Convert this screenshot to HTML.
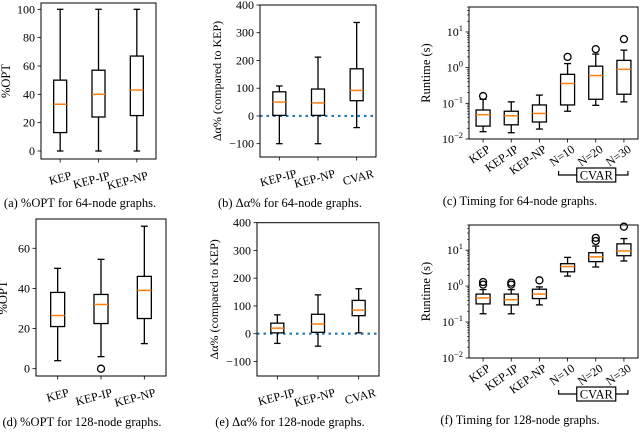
<!DOCTYPE html>
<html><head><meta charset="utf-8"><style>
body{margin:0;background:#fff}
svg, svg text{font-family:"Liberation Serif","Times New Roman",Times,serif}
</style></head><body>
<svg id="c" width="640" height="430" viewBox="0 0 640 430" font-family="Liberation Serif, Times New Roman, serif"></svg>
<script>
// Panel a
const catsA=["KEP","KEP-IP","KEP-NP"];
const statsA=[[0,13,33,50,100],[0,24,40,57,100],[0,25,43,67,100]];
const outA=[[],[],[]];
const ticksA=[0,20,40,60,80,100];
// Panel b
const catsB=["KEP-IP","KEP-NP","CVAR"];
const statsB=[[-100,2,50,87,108],[-100,2,47,97,212],[-42,55,92,170,337]];
const outB=[[],[],[]];
const ticksB=[-100,0,100,200,300,400];
// Panel c
const catsC=["KEP","KEP-IP","KEP-NP","N=10","N=20","N=30"];
const statsC=[[0.016,0.023,0.048,0.065,0.13],[0.015,0.025,0.045,0.06,0.11],[0.019,0.03,0.052,0.09,0.17],[0.06,0.09,0.36,0.65,1.3],[0.088,0.13,0.6,1.1,2.4],[0.11,0.18,0.9,1.6,3.1]];
const outC=[[0.16],[],[],[2.0],[3.3],[6.3]];
const ticksC=[-2,-1,0,1];
// Panel d
const catsD=["KEP","KEP-IP","KEP-NP"];
const statsD=[[4,21,26.5,38,50],[6,22.5,32,37,54.5],[12.5,25,39,46,71]];
const outD=[[],[0],[]];
const ticksD=[0,20,40,60];
// Panel e
const catsE=["KEP-IP","KEP-NP","CVAR"];
const statsE=[[-35,3,20,38,68],[-45,5,35,70,140],[3,65,85,120,162]];
const outE=[[],[],[]];
const ticksE=[-100,0,100,200,300,400];
// Panel f
const catsF=["KEP","KEP-IP","KEP-NP","N=10","N=20","N=30"];
const statsF=[[0.17,0.32,0.47,0.6,0.8],[0.17,0.3,0.42,0.6,0.8],[0.3,0.45,0.6,0.82,0.95],[1.9,2.5,3.5,4.2,6.3],[3.4,4.8,6.5,8.5,13],[5,7,9.5,15,21]];
const outF=[[1.1,1.3],[1.1,1.25],[1.45],[],[18,22],[45]];
const ticksF=[-2,-1,0,1];

const svg=document.getElementById('c');
const NS="http://www.w3.org/2000/svg";
const FF='"Liberation Serif","Times New Roman",Times,serif';
function mk(tag,attrs,parent,text){const e=document.createElementNS(NS,tag);for(const k in attrs)e.setAttribute(k,attrs[k]);if(tag==='text')e.style.fontFamily=FF;if(text!==undefined)e.textContent=text;(parent||svg).appendChild(e);return e;}

function panel(p){
  const g=mk('g',{});
  
  
  const L=p.x0,R=p.x1,T=p.y0,B=p.y1;
  const tr=p.log?(v=>Math.log10(v)):(v=>v);
  const y=v=>B-(tr(v)-p.ymin)/(p.ymax-p.ymin)*(B-T);
  const n=p.cats.length;
  const step=(R-L)/n;
  const x=i=>L+step*(i+0.5);
  if(p.zero){const z=mk('line',{x1:L,x2:R,y1:y(0),y2:y(0),stroke:'#1f77b4','stroke-width':2.2,'stroke-dasharray':'2.5,4'},g);
    }
  p.ticks.forEach(t=>{
    const yy=p.log?B-(t-p.ymin)/(p.ymax-p.ymin)*(B-T):y(t);
    mk('line',{x1:L-3.5,x2:L,y1:yy,y2:yy,stroke:'#000','stroke-width':0.8},g);
    const tx=mk('text',{x:L-6,y:yy+4,'text-anchor':'end','font-size':12},g);
    
    if(p.log){tx.textContent='10';mk('tspan',{dy:-5,'font-size':8.5},tx,String(t).replace('-','\u2212'));}
    else tx.textContent=String(t).replace('-','\u2212');
  });
  if(p.log){for(let d=p.ticks[0];d<=p.ymax;d++){for(let m=2;m<=9;m++){const lv=d+Math.log10(m);if(lv>p.ymax)break;const yy=B-(lv-p.ymin)/(p.ymax-p.ymin)*(B-T);mk('line',{x1:L-2,x2:L,y1:yy,y2:yy,stroke:'#000','stroke-width':0.6},g);}}}
  const bw=p.bw;
  p.stats.forEach((s,i)=>{
    const bg=mk('g',{},g);
    
    
    const cx=x(i);
    mk('line',{x1:cx,x2:cx,y1:y(s[0]),y2:y(s[1]),stroke:'#000','stroke-width':1.3},bg);
    mk('line',{x1:cx,x2:cx,y1:y(s[3]),y2:y(s[4]),stroke:'#000','stroke-width':1.3},bg);
    mk('line',{x1:cx-bw/4,x2:cx+bw/4,y1:y(s[0]),y2:y(s[0]),stroke:'#000','stroke-width':1.3},bg);
    mk('line',{x1:cx-bw/4,x2:cx+bw/4,y1:y(s[4]),y2:y(s[4]),stroke:'#000','stroke-width':1.3},bg);
    mk('rect',{x:cx-bw/2,y:y(s[3]),width:bw,height:y(s[1])-y(s[3]),fill:'none',stroke:'#000','stroke-width':1.3},bg);
    mk('line',{x1:cx-bw/2,x2:cx+bw/2,y1:y(s[2]),y2:y(s[2]),stroke:'#ff7f0e','stroke-width':1.5},bg);
    p.out[i].forEach(o=>{mk('circle',{cx:cx,cy:y(o),r:3.5,fill:'none',stroke:'#000','stroke-width':1.3},bg);});
    mk('line',{x1:cx,x2:cx,y1:B,y2:B+3.5,stroke:'#000','stroke-width':0.8},g);
    const lx=cx+p.lo[0],ly=B+p.lo[1];
    const t=mk('text',{x:lx,y:ly,'text-anchor':'end','font-size':12,transform:`rotate(${p.rot} ${lx} ${ly})`},g,p.cats[i]);
    
  });
  const fr=mk('rect',{x:L,y:T,width:R-L,height:B-T,fill:'none',stroke:'#000','stroke-width':1},g);
  
  const yl=mk('text',{x:p.ylx,y:(T+B)/2,'text-anchor':'middle','font-size':p.ylfs||12.5,transform:`rotate(-90 ${p.ylx} ${(T+B)/2})`},g,p.ylabel);
  
  if(p.cvar){
    const bx=mk('g',{},g);
    const by=p.cvar;
    mk('path',{d:`M${x(3)-9} ${by-4} V${by} H${x(5)+4} V${by-4}`,fill:'none',stroke:'#000','stroke-width':1.2},bx);
    mk('rect',{x:(x(3)+x(5))/2-19,y:by-7,width:39,height:14,fill:'#fff',stroke:'#000','stroke-width':1.2},bx);
    mk('text',{x:(x(3)+x(5))/2+0.5,y:by+4.5,'text-anchor':'middle','font-size':12.5},bx,'CVAR');
  }
  const cap=mk('text',{x:p.capx,y:p.capy,'text-anchor':'middle','font-size':12.5},g,p.caption);
  
}
panel({name:'panel-a',x0:41,x1:156,y0:3,y1:159,ymin:(151-159)/1.418,ymax:100+(9.3-3)/1.418,cats:catsA,stats:statsA,out:outA,ticks:ticksA,bw:13,rot:-15,lo:[12,20],ylx:10,ylabel:'%OPT',caption:'(a) %OPT for 64-node graphs.',capx:80,capy:207});
panel({name:'panel-b',x0:260,x1:376,y0:5,y1:157,ymin:-148,ymax:400,cats:catsB,stats:statsB,out:outB,ticks:ticksB,bw:13,rot:-15,lo:[18,20],ylx:221,ylfs:12,zero:true,ylabel:'\u0394\u03b1% (compared to KEP)',caption:'(b) \u0394\u03b1% for 64-node graphs.',capx:290,capy:207});
panel({name:'panel-c',x0:469,x1:638,y0:7,y1:139,log:true,ymin:-2,ymax:1.7,cats:catsC,stats:statsC,out:outC,ticks:ticksC,bw:14,rot:-35,lo:[8,12],ylx:430,ylabel:'Runtime (s)',cvar:175,caption:'(c) Timing for 64-node graphs.',capx:520,capy:205});
panel({name:'panel-d',x0:36,x1:166,y0:219,y1:376,ymin:-(376-368.7)/2.007,ymax:(368.7-219)/2.007,cats:catsD,stats:statsD,out:outD,ticks:ticksD,bw:14,rot:-15,lo:[12,20],ylx:7,ylabel:'%OPT',caption:'(d) %OPT for 128-node graphs.',capx:82,capy:426});
panel({name:'panel-e',x0:257,x1:379,y0:222.7,y1:376,ymin:-(376-333.7)/0.2775,ymax:400,cats:catsE,stats:statsE,out:outE,ticks:ticksE,bw:13,rot:-15,lo:[18,20],ylx:218,ylfs:12,zero:true,ylabel:'\u0394\u03b1% (compared to KEP)',caption:'(e) \u0394\u03b1% for 128-node graphs.',capx:290,capy:426});
panel({name:'panel-f',x0:469,x1:638,y0:225,y1:358,log:true,ymin:-2,ymax:1.7,cats:catsF,stats:statsF,out:outF,ticks:ticksF,bw:14,rot:-35,lo:[8,12],ylx:430,ylabel:'Runtime (s)',cvar:394,caption:'(f) Timing for 128-node graphs.',capx:520,capy:424});
</script>
</body></html>
